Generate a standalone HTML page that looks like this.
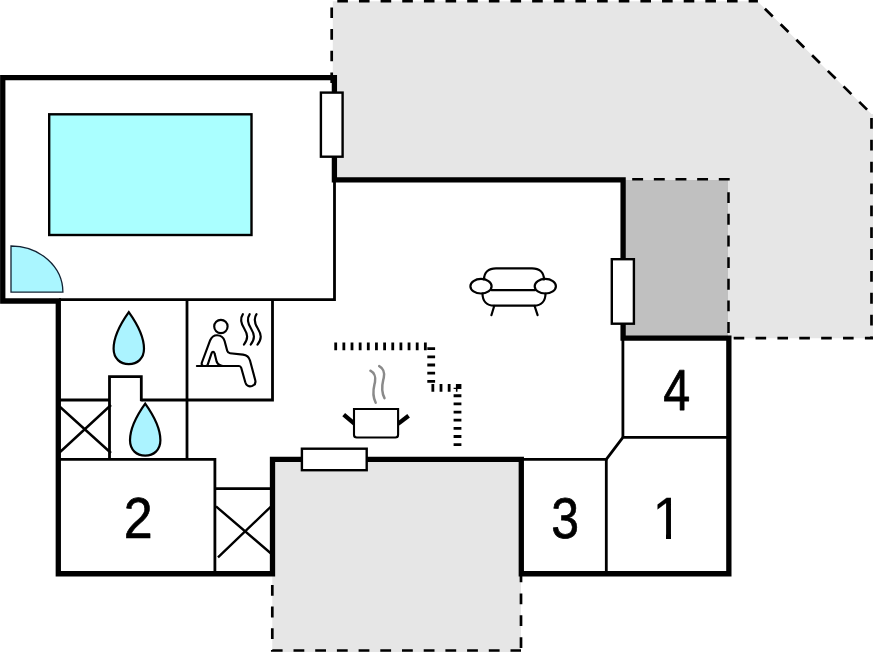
<!DOCTYPE html>
<html><head><meta charset="utf-8">
<title>Floor plan</title>
<style>
html,body{margin:0;padding:0;background:#fff;overflow:hidden;}
svg{display:block;}
text{font-family:"Liberation Sans",Arial,Helvetica,sans-serif;fill:#000;text-rendering:geometricPrecision;}
</style></head><body>
<svg width="873" height="652" viewBox="0 0 873 652">
<rect width="873" height="652" fill="#fff"/>
<!-- terraces -->
<polygon points="332.8,1.2 757.3,1.2 871.5,114 873,114 873,338.3 728,338.3 728,180 332.8,180" fill="#e6e6e6"/>
<rect x="625" y="180" width="103" height="158" fill="#c0c0c0"/>
<rect x="272.3" y="460" width="248.7" height="192" fill="#e6e6e6"/>
<!-- dashed outlines -->
<g fill="none" stroke="#000" stroke-width="2.7">
<line x1="331.7" y1="83" x2="331.7" y2="1.2" stroke-dasharray="10.6 11.05"/>
<line x1="337.3" y1="1.2" x2="757.9" y2="1.2" stroke-dasharray="10.6 11.05"/>
<line x1="757.3" y1="1.2" x2="871.5" y2="114" stroke-dasharray="11 11.1" stroke-dashoffset="11.4"/>
<line x1="871.5" y1="117.9" x2="871.5" y2="338.3" stroke-dasharray="10.8 11.07"/>
<line x1="873" y1="338.2" x2="729" y2="338.2" stroke-dasharray="10.6 11.27" stroke-dashoffset="2.5"/>
<polyline points="272.3,584.9 272.3,650.5 521,650.5" stroke-dasharray="10.8 10.9"/>
<line x1="521" y1="571.5" x2="521" y2="650.5" stroke-dasharray="10.8 11.1"/>
</g>
<g fill="none" stroke="#000" stroke-width="2.5">
<line x1="632.2" y1="179.3" x2="729.7" y2="179.3" stroke-dasharray="10.9 10.75"/>
<line x1="728.5" y1="192.2" x2="728.5" y2="338" stroke-dasharray="10.9 10.75"/>
</g>
<!-- thin walls -->
<g fill="none" stroke="#000" stroke-width="2.8">
<polyline points="334.5,181 334.5,299.7 59,299.7"/>
<line x1="187" y1="299.7" x2="187" y2="459.4"/>
<polyline points="141.3,400 272.5,400 272.5,299.7"/>
<polyline points="59,400 109.5,400"/>
<polyline points="109.5,459.4 109.5,376.6 141.3,376.6 141.3,401.3"/>
<polyline points="59,459.4 214.9,459.4 214.9,573"/>
<line x1="214.9" y1="488.7" x2="272" y2="488.7"/>
<polyline points="522,459.3 606.3,459.3 622.9,437.3 728,437.3"/>
<line x1="606.3" y1="459.3" x2="606.3" y2="573"/>
<line x1="622.9" y1="339" x2="622.9" y2="437.3"/>
</g>
<g fill="none" stroke="#000" stroke-width="2.4">
<path d="M59,406 L111,453 M59,453 L111,405"/>
<path d="M216,506.4 L271,553.5 M218,557.4 L271,506.5"/>
</g>
<!-- thick walls -->
<polygon points="58.3,301 2.75,301 2.75,77.6 334.4,77.6 334.4,179.8 623.1,179.8 623.1,338.05 728.85,338.05 728.85,573.75 521.3,573.75 521.3,459.45 272.5,459.45 272.5,573.75 58.3,573.75" fill="none" stroke="#000" stroke-width="5.3" stroke-linejoin="miter"/>
<!-- windows -->
<g fill="#fff" stroke="#000" stroke-width="2.400">
<rect x="320.900" y="92.600" width="21.700" height="64.100"/>
<rect x="611.800" y="259.200" width="22.100" height="64.500"/>
<rect x="301.900" y="448.700" width="64.800" height="21.500"/>
</g>
<!-- pool -->
<rect x="49.2" y="114.3" width="202.3" height="120.7" fill="#aaffff" stroke="#000" stroke-width="2.4"/>
<path d="M11,246 A51.9,46.1 0 0 1 62.9,292.1 L11,292.1 Z" fill="#aaf6ff" stroke="#123" stroke-width="1.3"/>
<!-- drops -->
<g fill="#abf3ff" stroke="#000" stroke-width="2.2" stroke-linejoin="miter">
<path d="M128.80,312.20 C135.50,321.56 144.00,334.59 144.00,348.84 C144.00,358.50 137.30,364.10 128.80,364.10 C120.30,364.10 113.60,358.50 113.60,348.84 C113.60,334.59 122.10,321.56 128.80,312.20 Z"/>
<path d="M145.20,403.70 C151.90,413.06 160.40,426.09 160.40,440.34 C160.40,450.00 153.70,455.60 145.20,455.60 C136.70,455.60 130.00,450.00 130.00,440.34 C130.00,426.09 138.50,413.06 145.20,403.70 Z"/>
</g>
<!-- sauna -->
<g fill="none" stroke="#000" stroke-width="2.15" stroke-linecap="round" stroke-linejoin="round">
<circle cx="220.9" cy="326.5" r="6.7"/>
<path d="M201.900,362.500 L210.200,340.200 C211.800,336.500 214,335.200 217,335.200 C220.800,335.200 223.500,337.500 224.600,341 L227.200,350.800 C227.600,352.400 228.300,353 230,353.200 L243,354.600 C247,355 249,357 250,360.500 L255.200,380 C256,383 254.500,385.200 252,386 C249,386.800 246.300,385.500 245.300,382.300 L241.200,367.800 C240.800,366.500 240.300,366 239,366 L223,366 C219.500,366 217.800,364.500 216.600,361.500 L214.600,353.600 C214.200,351.500 212.300,351.300 211.600,353.200 L207.800,364.300 C207.300,365.600 206.600,366 205.500,366 L203.800,366 C202,366 201.300,364.500 201.900,362.500 Z"/>
<line x1="196.900" y1="366" x2="224" y2="366"/>
<path d="M242.900,314.200 C240,318.500 240.700,323 244.200,328.500 C247.800,334.500 248.500,338.500 243.900,344.700"/>
<path d="M249.700,314.200 C246.800,318.500 247.500,323 251,328.500 C254.600,334.500 255.300,338.500 250.700,344.700"/>
<path d="M256.500,314.200 C253.600,318.500 254.300,323 257.800,328.500 C261.400,334.500 262.100,338.500 257.500,344.700"/>
</g>
<!-- sofa -->
<g fill="none" stroke="#000" stroke-width="2.2" stroke-linecap="round" stroke-linejoin="round">
<path d="M484,279.500 C484,272.500 488.500,268.300 496,268.300 L532,268.300 C539.500,268.300 544,272.500 544,279.500"/>
<ellipse cx="481" cy="286.200" rx="10.600" ry="7.300"/>
<ellipse cx="545.300" cy="286.200" rx="10.600" ry="7.300"/>
<line x1="491.500" y1="290.200" x2="535" y2="290.200"/>
<path d="M482.500,293.500 C482.500,301.500 487,305.700 494,305.700 L534,305.700 C541,305.700 545.500,301.500 545.500,293.500"/>
<line x1="494.200" y1="306" x2="491.400" y2="315.200"/>
<line x1="534.600" y1="306" x2="537.600" y2="315.200"/>
</g>
<!-- kitchen counter -->
<path d="M334.300,346.400 H431.200 V387.800 H457.500 V446.600" fill="none" stroke="#000" stroke-width="7.800" stroke-dasharray="2.800 5.350"/>
<!-- pot -->
<g fill="none" stroke="#8a8a8a" stroke-width="2.500" stroke-linecap="round">
<path d="M370.400,370.700 C374,372.500 376,377 375,382 C374,387 371.200,394 375.700,402.700"/>
<path d="M379.200,366.100 C382.800,367.900 384.800,372.400 383.800,377.400 C382.800,382.400 380,389.400 384.500,398.100"/>
</g>
<g stroke="#000" stroke-width="4.300" stroke-linecap="butt">
<line x1="343.700" y1="414.700" x2="354.400" y2="423.700"/>
<line x1="398" y1="423.900" x2="408.600" y2="415.700"/>
</g>
<path d="M354,409 H398.100 V434.700 Q398.100,437.500 395.300,437.500 H356.800 Q354,437.500 354,434.700 Z" fill="#fff" stroke="#000" stroke-width="2.100"/>
<!-- numbers -->
<defs><clipPath id="c1"><rect x="0" y="-320" width="136.800" height="282"/><rect x="100.400" y="-38.400" width="36.400" height="41.600"/></clipPath></defs>
<g stroke="#000" stroke-width="4.800" stroke-linejoin="round" font-size="400">
<g transform="translate(123.660,538.300) scale(0.1299,0.144475)"><text x="0" y="0">2</text></g>
<g transform="translate(551.220,537.890) scale(0.125075,0.143175)"><text x="0" y="0">3</text></g>
<g transform="translate(652.200,538.700) scale(0.1375,0.149825)"><text x="0" y="0" stroke-width="0.800" clip-path="url(#c1)">1</text></g>
<g transform="translate(663.300,410.060) scale(0.1209,0.14452)"><text x="0" y="0" stroke-width="5.600">4</text></g>
</g>
</svg>
</body></html>
